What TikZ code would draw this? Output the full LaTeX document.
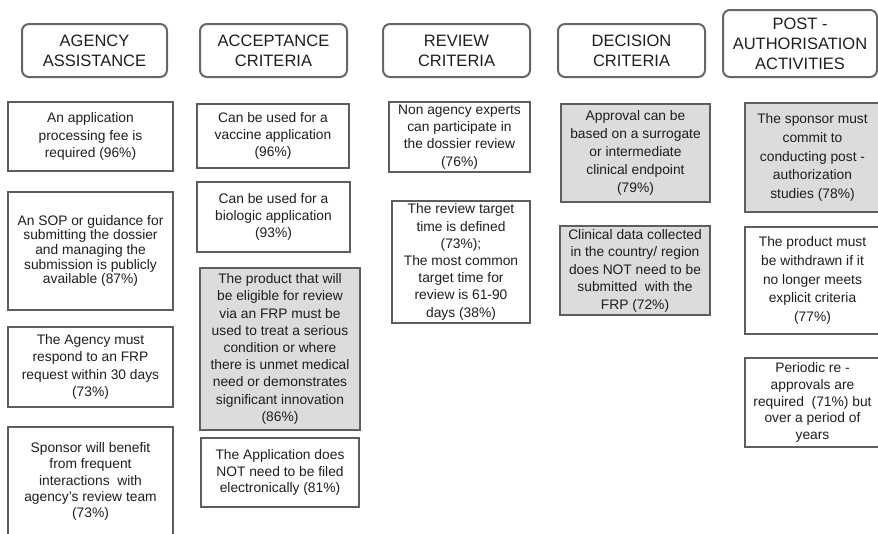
\documentclass[tikz,border=0pt]{standalone}
\usepackage{fontspec}
\setmainfont{Liberation Sans}
\definecolor{hdrgray}{HTML}{666666}
\definecolor{boxgray}{HTML}{5E5E5E}
\definecolor{fillgray}{HTML}{DCDCDC}
\definecolor{txt}{HTML}{1E1E1E}
\tikzset{
  hdr/.style={draw=hdrgray, line width=2pt, rounded corners=7pt, align=center, text=txt,
    font=\fontsize{16.5}{20}\selectfont, inner sep=0pt},
  cell/.style={draw=boxgray, line width=2.2pt, align=center, text=txt,
    font=\fontsize{13.8}{17.2}\selectfont, inner sep=0pt},
  shaded/.style={cell, fill=fillgray},
  tight/.style={font=\fontsize{13.8}{14.6}\selectfont},
  loose/.style={font=\fontsize{13.8}{18.6}\selectfont}
}
\begin{document}
\begin{tikzpicture}
\useasboundingbox (0,0) rectangle (878pt,-533pt);
\clip (0,0) rectangle (878pt,-533pt);
% headers
\node[hdr, minimum width=145pt, minimum height=53pt] (h1) at (94.5pt,-50.5pt) {AGENCY\\ASSISTANCE};
\node[hdr, minimum width=147pt, minimum height=53pt] (h2) at (273.5pt,-50.5pt) {ACCEPTANCE\\CRITERIA};
\node[hdr, minimum width=147pt, minimum height=53pt] (h3) at (456.5pt,-50.5pt) {REVIEW\\CRITERIA};
\node[hdr, minimum width=147pt, minimum height=53pt] (h4) at (631.5pt,-50.5pt) {DECISION\\CRITERIA};
\node[hdr, minimum width=154pt, minimum height=67pt] (h5) at (800pt,-43.5pt) {POST -\\AUTHORISATION\\ACTIVITIES};
% column 1
\node[cell, minimum width=165pt, minimum height=69pt] (b11) at (90.5pt,-136.5pt)
  {An application\\processing fee is\\required (96\%)};
\node[cell, tight, minimum width=165pt, minimum height=118pt] (b12) at (90.5pt,-251pt)
  {An SOP or guidance for\\submitting the dossier\\and managing the\\submission is publicly\\available (87\%)};
\node[cell, minimum width=165pt, minimum height=80pt] (b13) at (90.5pt,-367pt)
  {The Agency must\\respond to an FRP\\request within 30 days\\(73\%)};
\node[cell, font=\fontsize{13.8}{16.4}\selectfont, minimum width=165pt, minimum height=109pt] (b14) at (90.5pt,-481.5pt)
  {Sponsor will benefit\\from frequent\\interactions\ \ with\\agency's review team\\(73\%)};
% column 2
\node[cell, minimum width=152pt, minimum height=64pt] (b21) at (273pt,-136pt)
  {Can be used for a\\vaccine application\\(96\%)};
\node[cell, minimum width=153pt, minimum height=70pt] (b22) at (273.5pt,-217pt)
  {Can be used for a\\biologic application\\(93\%)};
\node[shaded, minimum width=160pt, minimum height=162pt] (b23) at (280pt,-349pt)
  {The product that will\\be eligible for review\\via an FRP must be\\used to treat a serious\\condition or where\\there is unmet medical\\need or demonstrates\\significant innovation\\(86\%)};
\node[cell, font=\fontsize{13.8}{16.7}\selectfont, minimum width=158pt, minimum height=69pt] (b24) at (280pt,-472.5pt)
  {The Application does\\NOT need to be filed\\electronically (81\%)};
% column 3
\node[cell, minimum width=141pt, minimum height=70pt] (b31) at (459.5pt,-137pt)
  {Non agency experts\\can participate in\\the dossier review\\(76\%)};
\node[cell, minimum width=138pt, minimum height=122pt] (b32) at (461pt,-262pt)
  {The review target\\time is defined\\(73\%);\\The most common\\target time for\\review is 61-90\\days (38\%)};
% column 4
\node[shaded, font=\fontsize{13.8}{18}\selectfont, minimum width=149pt, minimum height=98pt] (b41) at (635.5pt,-153pt)
  {Approval can be\\based on a surrogate\\or intermediate\\clinical endpoint\\(79\%)};
\node[shaded, font=\fontsize{13.8}{17.5}\selectfont, minimum width=150pt, minimum height=89pt] (b42) at (635pt,-270.5pt)
  {Clinical data collected\\in the country/ region\\does NOT need to be\\submitted\ \ with the\\FRP (72\%)};
% column 5
\node[shaded, loose, minimum width=135pt, minimum height=109pt] (b51) at (812.5pt,-157.5pt)
  {The sponsor must\\commit to\\conducting post -\\authorization\\studies (78\%)};
\node[cell, loose, minimum width=135pt, minimum height=107pt] (b52) at (812.5pt,-280.5pt)
  {The product must\\be withdrawn if it\\no longer meets\\explicit criteria\\(77\%)};
\node[cell, font=\fontsize{13.8}{16.7}\selectfont, minimum width=135pt, minimum height=89pt] (b53) at (812.5pt,-402.5pt)
  {Periodic re -\\approvals are\\required\ \ (71\%) but\\over a period of\\years};
\end{tikzpicture}
\end{document}
